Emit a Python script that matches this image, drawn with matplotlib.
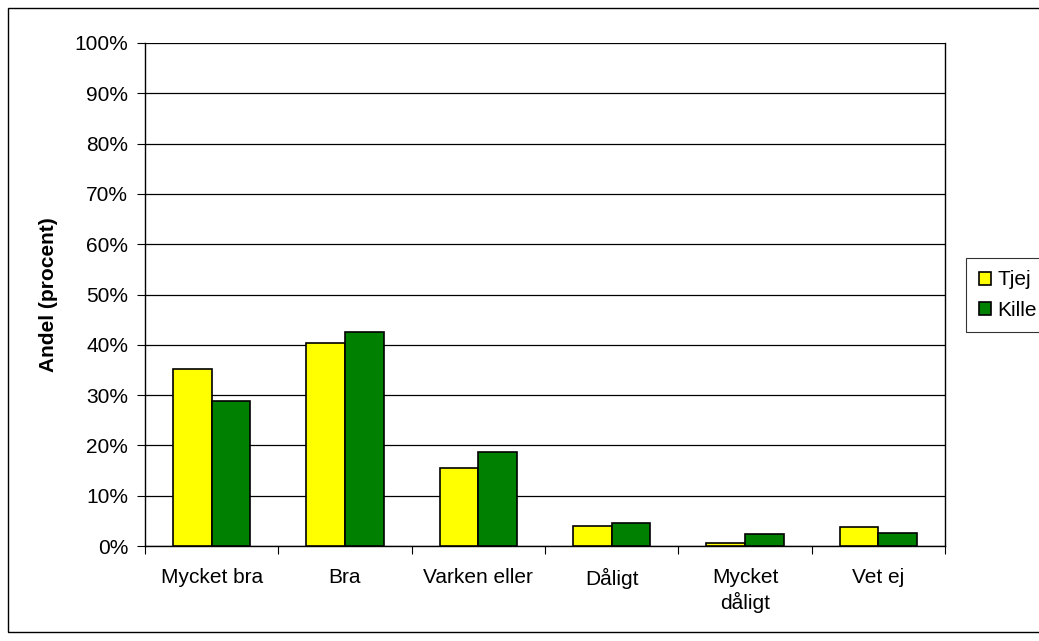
import matplotlib
matplotlib.use("Agg")
import matplotlib.pyplot as plt
from matplotlib.patches import Rectangle
import numpy as np

plt.rcParams['font.family'] = ['Liberation Sans', 'DejaVu Sans']

categories = ["Mycket bra", "Bra", "Varken eller", "Dåligt", "Mycket\ndåligt", "Vet ej"]
tjej = [35.2, 40.3, 15.5, 4.0, 0.5, 3.7]
kille = [28.8, 42.6, 18.6, 4.6, 2.3, 2.6]
series_names = ["Tjej", "Kille"]
yticks = list(range(0, 101, 10))

W, H = 1039, 641
fs = 15
fig = plt.figure(figsize=(W/100, H/100), dpi=100)
ax = fig.add_axes([145/W, (H-546)/H, 800/W, 503/H])

x = np.arange(len(categories))
bw = 0.29
ax.bar(x - bw/2, tjej, bw, color='#FFFF00', edgecolor='black', linewidth=1.2, label=series_names[0], zorder=3)
ax.bar(x + bw/2, kille, bw, color='#008000', edgecolor='black', linewidth=1.2, label=series_names[1], zorder=3)

ax.set_xlim(-0.5, len(categories) - 0.5)
ax.set_ylim(0, 100)
ax.set_yticks(yticks)
ax.set_yticklabels([f"{v}%" for v in yticks], fontsize=fs)
ax.yaxis.grid(True, color='black', linewidth=0.9, zorder=0)
ax.set_axisbelow(True)

ax.set_xticks(np.arange(-0.5, len(categories), 1.0))
ax.set_xticklabels([])
ax.set_xticks(x, minor=True)
ax.set_xticklabels(categories, minor=True, fontsize=fs, linespacing=1.3)
ax.tick_params(axis='x', which='minor', length=0, pad=16)
ax.tick_params(axis='x', which='major', length=6, direction='out', color='black')
ax.tick_params(axis='y', length=6, direction='out', color='black', pad=6)

for s in ax.spines.values():
    s.set_color('black')
    s.set_linewidth(1.0)
ax.spines['top'].set_visible(False)

ax.set_ylabel("Andel (procent)", fontsize=fs, fontweight='bold', labelpad=12)

leg = fig.legend(loc='upper left', bbox_to_anchor=(966/W, 1 - 258/H), fontsize=fs,
                 frameon=True, fancybox=False, edgecolor='black', handlelength=0.6,
                 handleheight=0.6, handletextpad=0.3, borderpad=0.6, labelspacing=0.55,
                 borderaxespad=0)
leg.get_frame().set_linewidth(0.8)

fig.patches.append(Rectangle((8/W, 1 - 632/H), (W + 20)/W, (632 - 8)/H, transform=fig.transFigure,
                             fill=False, edgecolor='black', linewidth=1.0))

fig.savefig("out.png", dpi=100)
